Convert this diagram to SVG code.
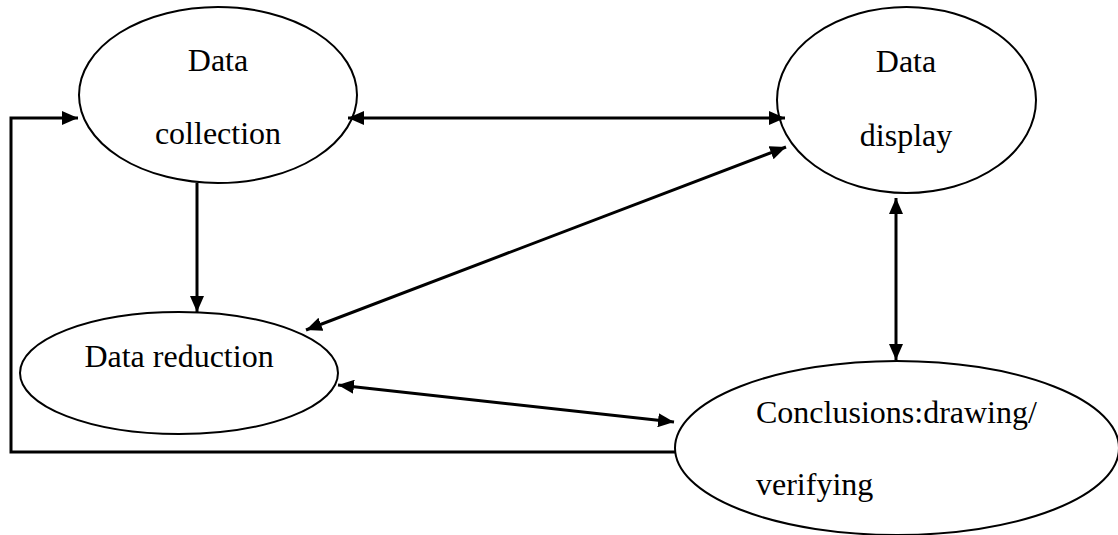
<svg xmlns="http://www.w3.org/2000/svg" width="1118" height="535" viewBox="0 0 1118 535">
<style>
.node ellipse{fill:none;stroke:#000;stroke-width:2}
.node text{font-family:"Liberation Serif","Times New Roman",serif;font-size:32px;fill:#000}
.conn{fill:none;stroke:#000;stroke-width:3}
</style>
<defs>
<marker id="ah" markerUnits="userSpaceOnUse" markerWidth="17" markerHeight="14" refX="16" refY="7" orient="auto-start-reverse">
<path d="M0,0 L16,7 L0,14 z" fill="#000"/>
</marker>
</defs>
<rect width="1118" height="535" fill="#fff"/>
<g id="data-collection" class="node">
<ellipse cx="218" cy="95" rx="139" ry="88"/>
<text x="218" y="71" text-anchor="middle">Data</text>
<text x="218" y="144" text-anchor="middle">collection</text>
</g>
<g id="data-display" class="node">
<ellipse cx="906.5" cy="100" rx="129.5" ry="93"/>
<text x="906" y="72" text-anchor="middle">Data</text>
<text x="906" y="146" text-anchor="middle">display</text>
</g>
<g id="data-reduction" class="node">
<ellipse cx="179" cy="373" rx="159" ry="61"/>
<text x="179" y="367" text-anchor="middle">Data reduction</text>
</g>
<g id="conclusions" class="node">
<ellipse cx="897" cy="448" rx="222" ry="87"/>
<text x="756" y="423">Conclusions:drawing/</text>
<text x="756" y="495">verifying</text>
</g>
<g id="connectors">
<path class="conn" d="M675,452 H11 V118 H78" marker-end="url(#ah)"/>
<line class="conn" x1="348" y1="118" x2="785" y2="118" marker-start="url(#ah)" marker-end="url(#ah)"/>
<line class="conn" x1="197" y1="183" x2="197" y2="312" marker-end="url(#ah)"/>
<line class="conn" x1="306" y1="330" x2="786" y2="147" marker-start="url(#ah)" marker-end="url(#ah)"/>
<line class="conn" x1="338" y1="385" x2="674" y2="422" marker-start="url(#ah)" marker-end="url(#ah)"/>
<line class="conn" x1="896" y1="198" x2="896" y2="360" marker-start="url(#ah)" marker-end="url(#ah)"/>
</g>
</svg>
